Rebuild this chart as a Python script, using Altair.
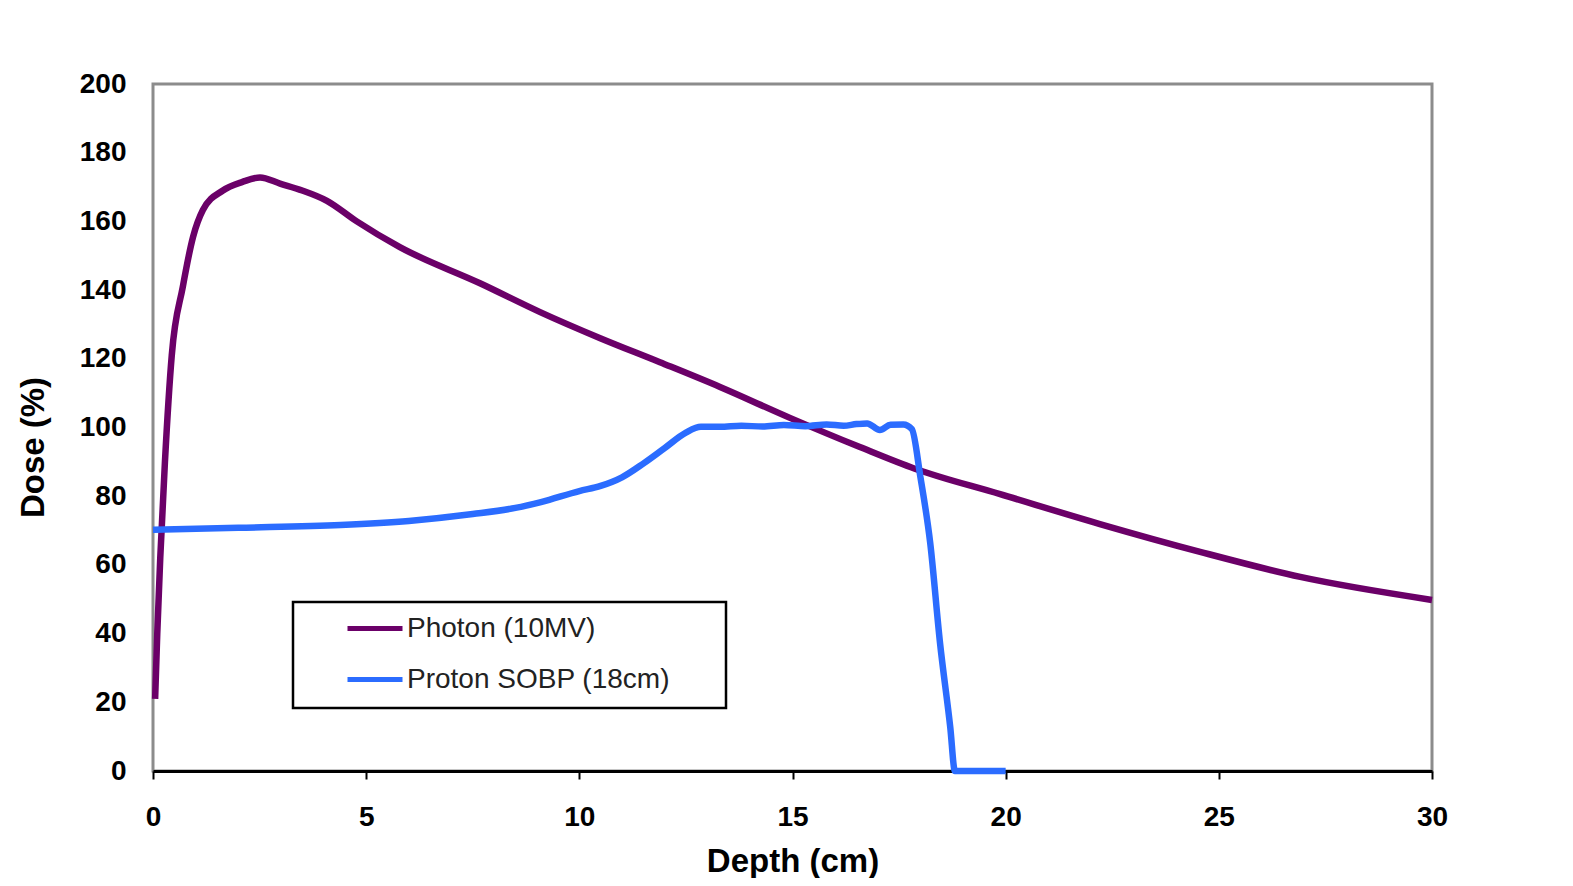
import altair as alt
import pandas as pd

photon_label = "Photon (10MV)"
proton_label = "Proton SOBP (18cm)"

photon_depth = [0.05, 0.1, 0.17, 0.28, 0.44, 0.7, 0.94, 1.17, 1.64, 2.1, 2.51, 2.98, 3.5, 4.08,
                4.78, 5.79, 7.67, 9.08, 10.49, 11.89, 13.3, 14.94, 16.58, 17.87, 19.87,
                22.21, 24.56, 26.91, 30.0]
photon_dose = [21, 40, 62, 90, 121, 141, 155.5, 163.3, 169, 171.5, 172.8, 171, 169, 166,
               160, 152.5, 142, 133.6, 126, 119, 111.8, 102.8, 94.3, 88, 80.6,
               71.9, 63.8, 56.5, 49.8]

proton_depth = [0, 2, 4.4, 6, 7.5, 8.5, 9.1, 10, 10.5, 11.0, 11.5, 12.0, 12.5, 12.85,
                13.3, 13.8, 14.3, 14.8, 15.3, 15.8, 16.2, 16.5, 16.75, 17.05, 17.3, 17.6,
                17.8, 18.0, 18.23, 18.46, 18.7, 18.81, 20]
proton_dose = [70.2, 70.8, 71.6, 72.8, 74.8, 76.6, 78.3, 81.5, 83, 85.5, 89.5, 94, 98.5, 100.2,
               100.2, 100.5, 100.3, 100.7, 100.4, 100.9, 100.5, 101, 101.2, 99.3, 100.8, 100.9,
               99.5, 85.6, 66.4, 37.3, 12.8, 0, 0]

x_ticks = [0, 5, 10, 15, 20, 25, 30]
y_ticks = [0, 20, 40, 60, 80, 100, 120, 140, 160, 180, 200]

rows = []
for d, v in zip(photon_depth, photon_dose):
    rows.append({"depth": d, "dose": v, "series": photon_label})
for d, v in zip(proton_depth, proton_dose):
    rows.append({"depth": d, "dose": v, "series": proton_label})
df = pd.DataFrame(rows)

FONT = "Liberation Sans"

chart = alt.Chart(df).mark_line(strokeWidth=6.5, interpolate="monotone").encode(
    x=alt.X("depth:Q", scale=alt.Scale(domain=[0, 30], nice=False),
            axis=alt.Axis(values=x_ticks, title="Depth (cm)", grid=False,
                          domainColor="black", domainWidth=3,
                          tickColor="black", tickWidth=2, tickSize=8,
                          labelFont=FONT, labelFontSize=28, labelFontWeight="bold",
                          labelColor="black", labelPadding=24, labelFlush=False,
                          titleFont=FONT, titleFontSize=33, titleFontWeight="bold",
                          titleColor="black", titleY=100, titleBaseline="alphabetic")),
    y=alt.Y("dose:Q", scale=alt.Scale(domain=[0, 200], nice=False),
            axis=alt.Axis(values=y_ticks, title="Dose (%)", grid=False,
                          domain=False, ticks=False, tickSize=0,
                          labelFont=FONT, labelFontSize=28, labelFontWeight="bold",
                          labelColor="black", labelPadding=27, labelFlush=False,
                          titleFont=FONT, titleFontSize=33, titleFontWeight="bold",
                          titleColor="black", titleX=-120, titleY=363,
                          titleBaseline="middle", titleAlign="center")),
    color=alt.Color("series:N",
                    scale=alt.Scale(domain=[photon_label, proton_label],
                                    range=["#6B0068", "#2B6CFF"]),
                    legend=alt.Legend(title=None, orient="none", legendX=140, legendY=518,
                                      strokeColor="black", padding=14,
                                      symbolType="stroke", symbolSize=3025,
                                      symbolStrokeWidth=5, symbolOffset=38,
                                      clipHeight=25, rowPadding=22, labelOffset=2,
                                      labelLimit=800,
                                      labelFont=FONT, labelFontSize=28, labelColor="#222222",
                                      labelExpr="datum.label + '\u2800\u2800'")),
).properties(
    width=1279, height=687,
    autosize=alt.AutoSizeParams(type="none"),
    padding={"left": 145, "top": 76, "right": 133, "bottom": 107},
    background="white",
).configure_view(
    stroke="#8c8c8c", strokeWidth=3
).configure_legend(
    strokeWidth=2.5
)

chart.save("out.html", embed_options={"renderer": "svg", "actions": False})
